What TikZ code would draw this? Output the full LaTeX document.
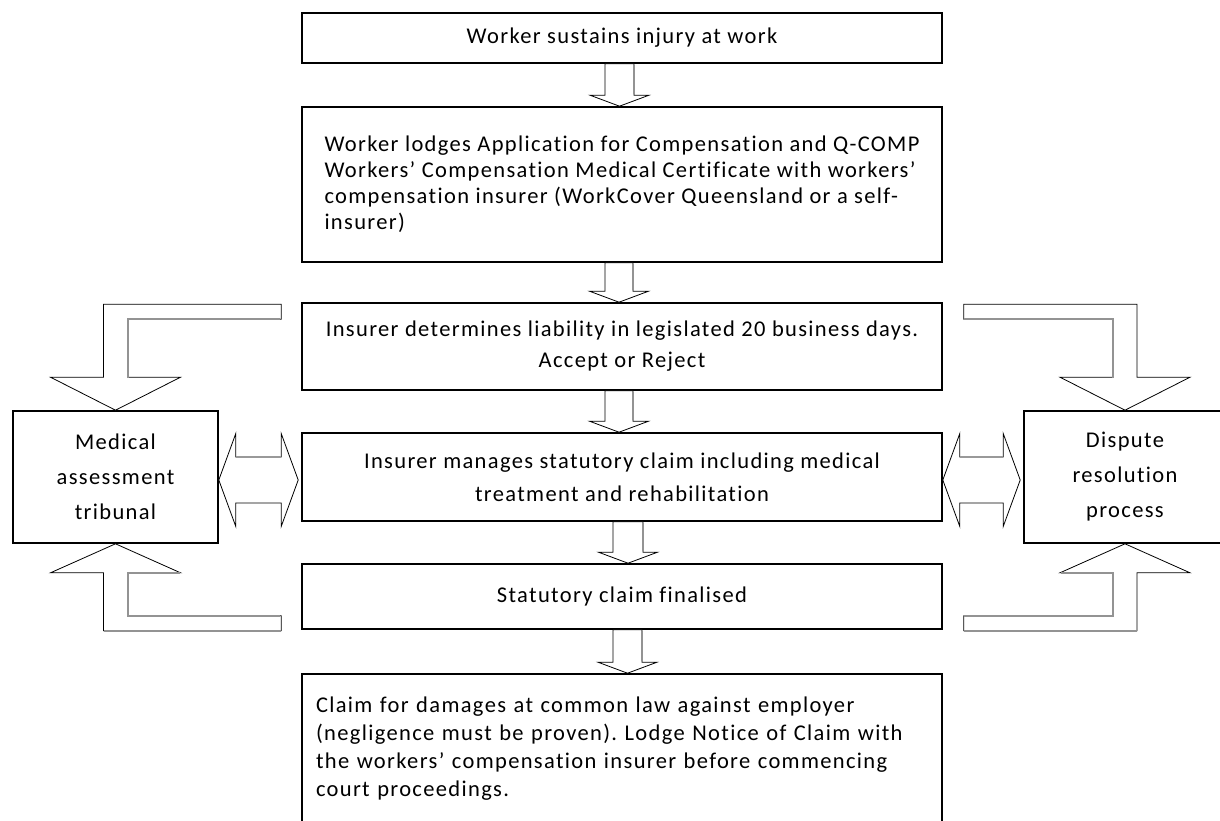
\documentclass[tikz,border=0pt]{standalone}
\usepackage{fontspec}
\setmainfont{Carlito}[LetterSpace=6, RawFeature=-liga]
\usetikzlibrary{calc}
\tikzset{
  box/.style={draw, line width=1.6pt, fill=white, inner sep=0pt, minimum width=640, font=\fontsize{22.5}{26}\selectfont},
  sidebox/.style={draw, line width=1.6pt, fill=white, inner sep=0pt, minimum height=132, align=center, font=\fontsize{22.5}{35}\selectfont},
  blk/.style={draw=black, line width=0.8pt, fill=white, line join=miter},
  shd/.style={draw=gray!85, line width=2pt},
}
% vertical block arrow: top node, bottom node, x centre, shaft half width
\newcommand\vblk[4]{%
  \path let \p1=(#1.south), \p2=(#2.north) in
    [blk] ({#3pt-#4pt},\y1) -- ({#3pt+#4pt},\y1) -- ({#3pt+#4pt},\y2+11pt) -- ({#3pt+29.5pt},\y2+11pt)
      -- (#3pt,\y2) -- ({#3pt-29.5pt},\y2+11pt) -- ({#3pt-#4pt},\y2+11pt) -- cycle;
  \path let \p1=(#1.south), \p2=(#2.north) in
    [shd] ({#3pt+#4pt},\y1-1pt) -- ({#3pt+#4pt},\y2+12pt);
}
% double block arrow between left node (east) and right node (west)
\newcommand\dblk[2]{%
  \path let \p1=(#1.east), \p2=(#2.west) in
    [blk] (\x1,\y1-3pt) -- (\x1+17pt,\y1+43.5pt) -- (\x1+17pt,\y1+20pt) -- (\x2-20pt,\y1+20pt)
      -- (\x2-20pt,\y1+43.5pt) -- (\x2-3pt,\y1-3pt) -- (\x2-20pt,\y1-49.5pt) -- (\x2-20pt,\y1-26pt)
      -- (\x1+17pt,\y1-26pt) -- (\x1+17pt,\y1-49.5pt) -- cycle;
  \path let \p1=(#1.east), \p2=(#2.west) in
    [draw=gray!80, line width=1.5pt] (\x1+17pt,\y1+20pt) -- (\x2-20pt,\y1+20pt);
}
\begin{document}
\frenchspacing
\begin{tikzpicture}[x=1pt,y=-1pt]
\useasboundingbox (0,0) rectangle (1220,821);
\clip (0,0) rectangle (1220,821);
\fill[white] (0,0) rectangle (1220,821);

\node[box, minimum height=50] (b1) at (622,38) {Worker sustains injury at work};
\node[box, minimum height=155, align=left] (b2) at (622,184.5)
  {Worker lodges Application for Compensation and Q-COMP\\
   Workers’ Compensation Medical Certificate with workers’\\
   compensation insurer (WorkCover Queensland or a self-\\
   insurer)};
\node[box, minimum height=87, align=center, font=\fontsize{22.5}{31}\selectfont] (b3) at (622,346.5)
  {Insurer determines liability in legislated 20 business days.\\ Accept or Reject};
\node[box, minimum height=88, align=center, font=\fontsize{22.5}{33}\selectfont] (b4) at (622,477)
  {Insurer manages statutory claim including medical\\ treatment and rehabilitation};
\node[box, minimum height=65] (b5) at (622,596.5) {Statutory claim finalised};
\node[box, minimum height=150, text width=612, align=left, font=\fontsize{22.5}{28}\selectfont] (b6) at (622,749)
  {Claim for damages at common law against employer\\
   (negligence must be proven). Lodge Notice of Claim with\\
   the workers’ compensation insurer before commencing\\
   court proceedings.};

\node[sidebox, minimum width=205] (med) at (115.5,477) {Medical\\ assessment\\ tribunal};
\node[sidebox, minimum width=202] (disp) at (1125,477) {Dispute\\ resolution\\ process};

% vertical arrows
\vblk{b1}{b2}{619.5}{14.5}
\vblk{b2}{b3}{619}{14}
\vblk{b3}{b4}{619}{14}
\vblk{b4}{b5}{628}{15}
\vblk{b5}{b6}{627.5}{14.5}

% bent arrow: b3 -> med
\path let \p1=(b3.north west), \p2=(med.north) in
  [blk] (\x1-20pt,\y1-2pt) -- (\x2-12pt,\y1-2pt) -- (\x2-12pt,\y2+33pt) -- (\x2-65pt,\y2+33pt)
    -- (\x2,\y2) -- (\x2+65pt,\y2+33pt) -- (\x2+12pt,\y2+33pt) -- (\x2+12pt,\y1-17pt)
    -- (\x1-20pt,\y1-17pt) -- cycle;
\path let \p1=(b3.north west), \p2=(med.north) in
  [shd] (\x2+12pt,\y2+32pt) -- (\x2+12pt,\y1-17pt) -- (\x1-21pt,\y1-17pt);
% bent arrow: b5 -> med
\path let \p1=(b5.south west), \p2=(med.south) in
  [blk] (\x1-20pt,\y1-1pt) -- (\x2-12pt,\y1-1pt) -- (\x2-12pt,\y2-29pt) -- (\x2-65pt,\y2-29pt)
    -- (\x2,\y2) -- (\x2+65pt,\y2-29pt) -- (\x2+12pt,\y2-29pt) -- (\x2+12pt,\y1+14pt)
    -- (\x1-20pt,\y1+14pt) -- cycle;
\path let \p1=(b5.south west), \p2=(med.south) in
  [shd] (\x2+64pt,\y2-29pt) -- (\x2+12pt,\y2-29pt) -- (\x2+12pt,\y1+14pt) -- (\x1-21pt,\y1+14pt)
  (\x2-12pt,\y1-1pt) -- (\x1-20pt,\y1-1pt);
% bent arrow: b3 -> disp
\path let \p1=(b3.north east), \p2=(disp.north) in
  [blk] (\x1+21pt,\y1-2pt) -- (\x2+12pt,\y1-2pt) -- (\x2+12pt,\y2+33pt) -- (\x2+65pt,\y2+33pt)
    -- (\x2,\y2) -- (\x2-65pt,\y2+33pt) -- (\x2-12pt,\y2+33pt) -- (\x2-12pt,\y1-17pt)
    -- (\x1+21pt,\y1-17pt) -- cycle;
\path let \p1=(b3.north east), \p2=(disp.north) in
  [shd] (\x2-12pt,\y2+32pt) -- (\x2-12pt,\y1-17pt) -- (\x1+21pt,\y1-17pt);
% bent arrow: b5 -> disp
\path let \p1=(b5.south east), \p2=(disp.south) in
  [blk] (\x1+21pt,\y1-1pt) -- (\x2+12pt,\y1-1pt) -- (\x2+12pt,\y2-29pt) -- (\x2+65pt,\y2-29pt)
    -- (\x2,\y2) -- (\x2-65pt,\y2-29pt) -- (\x2-12pt,\y2-29pt) -- (\x2-12pt,\y1+14pt)
    -- (\x1+21pt,\y1+14pt) -- cycle;
\path let \p1=(b5.south east), \p2=(disp.south) in
  [shd] (\x2-64pt,\y2-29pt) -- (\x2-12pt,\y2-29pt) -- (\x2-12pt,\y1+14pt) -- (\x1+21pt,\y1+14pt)
  (\x2+12pt,\y1-1pt) -- (\x1+21pt,\y1-1pt);

% double arrows
\dblk{med}{b4}
\dblk{b4}{disp}
\end{tikzpicture}
\end{document}
